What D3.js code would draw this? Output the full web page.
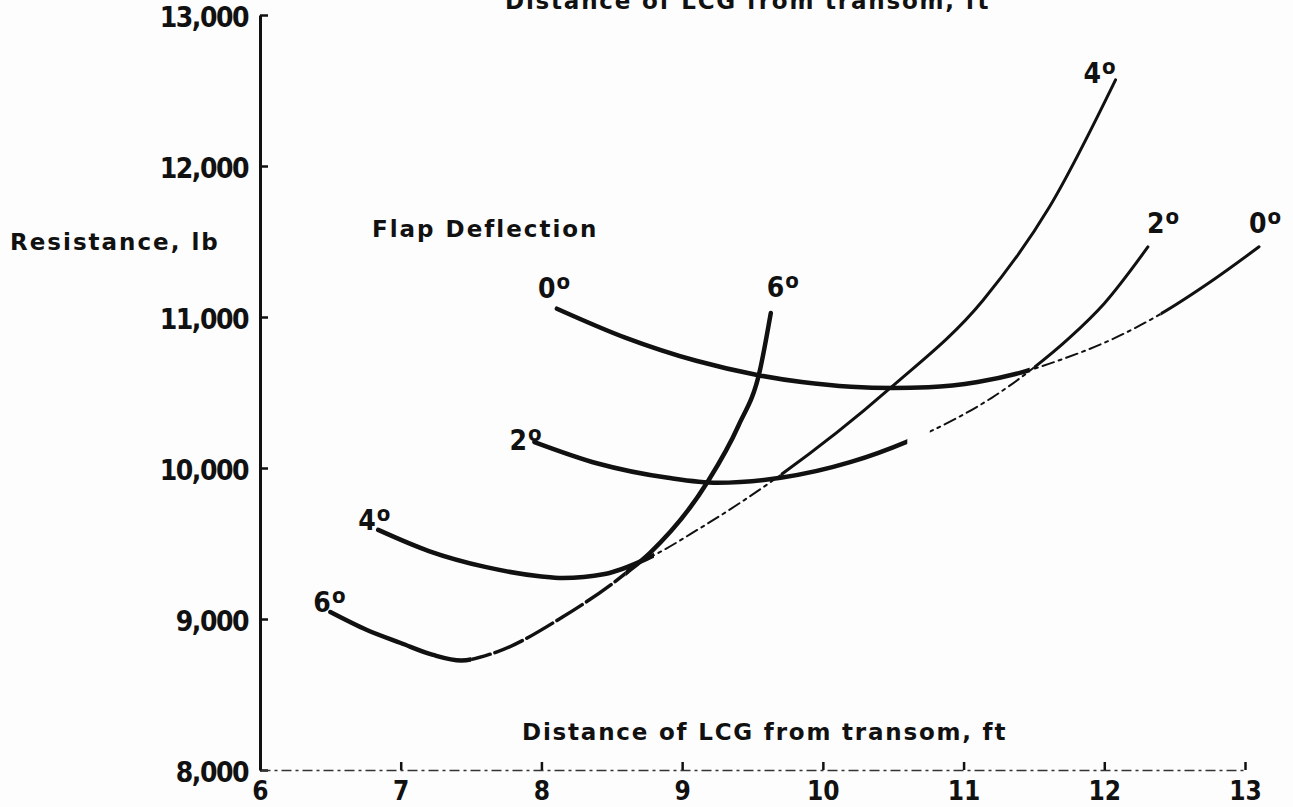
<!DOCTYPE html>
<html>
<head>
<meta charset="utf-8">
<script src="https://cdn.jsdelivr.net/npm/d3@7"></script>
<style>
  body { margin: 0; background: #fdfdfd; }
  svg { display: block; }
  text { font-family: "DejaVu Sans", sans-serif; font-weight: bold; fill: #111; }
</style>
</head>
<body>
<div class="container"></div>
<script>

// flap deflection, deg
var flaps = [0, 2, 4, 6];

// distance of LCG from transom (ft) and resistance (lb)
var lcg0 = [8.11, 8.6, 9.1, 9.55, 9.85, 10.2, 10.5, 10.75, 11.1, 11.4, 11.7, 12.05, 12.4, 12.75, 13.1];
var res0 = [11055, 10862, 10710, 10613, 10569, 10538, 10530, 10535, 10570, 10630, 10720, 10850, 11020, 11230, 11465];

var lcg2 = [7.95, 8.4, 8.9, 9.25, 9.7, 10.2, 10.6, 10.9, 11.2, 11.5, 11.75, 12.0, 12.31];
var res2 = [10172, 10030, 9935, 9902, 9935, 10040, 10175, 10305, 10465, 10665, 10860, 11090, 11464];

var lcg4 = [6.84, 7.2, 7.6, 8.0, 8.15, 8.45, 8.75, 9.13, 9.41, 9.7, 10.48, 11.14, 11.61, 12.08];
var res4 = [9590, 9450, 9345, 9282, 9272, 9298, 9400, 9603, 9768, 9954, 10530, 11113, 11728, 12570];

var lcg6 = [6.5, 6.76, 7.0, 7.23, 7.43, 7.68, 8.15, 8.61, 8.77, 9.18, 9.4, 9.55, 9.63];
var res6 = [9046, 8927, 8841, 8762, 8725, 8781, 9013, 9311, 9437, 9907, 10280, 10636, 11026];

var xTicks = [6, 7, 8, 9, 10, 11, 12, 13];
var yTicks = [8000, 9000, 10000, 11000, 12000, 13000];

var curves = {
  0: d3.zip(lcg0, res0),
  2: d3.zip(lcg2, res2),
  4: d3.zip(lcg4, res4),
  6: d3.zip(lcg6, res6)
};

// how each stretch of a curve is inked (x ranges in ft)
var stretches = {
  0: [[7.9, 11.47, "thick"], [11.47, 12.4, "dashdot"], [12.4, 13.3, "medium"]],
  2: [[7.9, 10.6, "thick"], [10.76, 11.5, "dashdot"], [11.5, 12.4, "medium"]],
  4: [[6.7, 8.8, "thick"], [8.8, 9.7, "dashdot"], [9.7, 12.2, "medium"]],
  6: [[6.4, 7.5, "thick"], [7.5, 8.6, "longdash"], [8.6, 9.7, "thick"]]
};
var inks = {
  thick:    { w: 4.5, dash: null },
  medium:   { w: 3,   dash: null },
  longdash: { w: 3.5, dash: "30,5" },
  dashdot:  { w: 2,   dash: "12,5,3,5" }
};

// label offsets (px) from first and last point of each curve
var startLabel = { 0: [-19, -11], 2: [-25, 8], 4: [-20, 0], 6: [-17, 0] };
var endLabel = { 0: [-10, -14], 2: [-1, -14], 4: [-32, 3], 6: [-4, -16] };

var width = 1293, height = 807;

var svg = d3.select(".container").append("svg")
  .attr("width", width)
  .attr("height", height);

var x = d3.scaleLinear().domain([6, 13]).range([260, 1245]);
var y = d3.scaleLinear().domain([8000, 13000]).range([770, 15]);

// y axis
var yAxis = d3.axisLeft(y)
  .tickValues(yTicks)
  .tickFormat(d3.format(","))
  .tickSizeInner(-8)
  .tickSizeOuter(0)
  .tickPadding(12);

var gy = svg.append("g")
  .attr("transform", "translate(" + x(6) + ",0)")
  .call(yAxis);
gy.select(".domain").attr("stroke", "#111").attr("stroke-width", 3);
gy.selectAll(".tick line").attr("stroke", "#111").attr("stroke-width", 2.5);
gy.selectAll(".tick text")
  .attr("font-size", 28)
  .attr("letter-spacing", -1.5)
  .attr("fill", "#111")
  .attr("transform", "translate(0,3)")
  .style("font-family", '"DejaVu Sans Condensed", "DejaVu Sans", sans-serif');

// x axis
var xAxis = d3.axisBottom(x)
  .tickValues(xTicks)
  .tickFormat(d3.format("d"))
  .tickSizeInner(-8)
  .tickSizeOuter(0)
  .tickPadding(11.5);

var gx = svg.append("g")
  .attr("transform", "translate(0," + y(8000) + ")")
  .call(xAxis);
gx.select(".domain")
  .attr("stroke", "#333")
  .attr("stroke-width", 1.5)
  .attr("stroke-dasharray", "10,4,3,4");
gx.selectAll(".tick line").attr("stroke", "#111").attr("stroke-width", 2.5);
gx.selectAll(".tick text")
  .attr("font-size", 26)
  .attr("fill", "#111")
  .style("font-family", '"DejaVu Sans Condensed", "DejaVu Sans", sans-serif');

// curves
var line = d3.line()
  .x(function (d) { return x(d[0]); })
  .y(function (d) { return y(d[1]); })
  .curve(d3.curveMonotoneX);

var defs = svg.append("defs");
var gc = svg.append("g").attr("class", "curves");

flaps.forEach(function (f) {
  stretches[f].forEach(function (s, i) {
    var id = "clip" + f + "_" + i;
    defs.append("clipPath").attr("id", id)
      .append("rect")
      .attr("x", x(s[0]))
      .attr("width", x(s[1]) - x(s[0]))
      .attr("y", 0)
      .attr("height", height);
    var ink = inks[s[2]];
    gc.append("path")
      .datum(curves[f])
      .attr("clip-path", "url(#" + id + ")")
      .attr("d", line)
      .attr("fill", "none")
      .attr("stroke", "#111")
      .attr("stroke-width", ink.w)
      .attr("stroke-linecap", "round")
      .attr("stroke-dasharray", ink.dash);
  });
});

// degree labels at both ends of each curve
function degLabel(f, pt, off) {
  var t = svg.append("text")
    .attr("x", x(pt[0]) + off[0])
    .attr("y", y(pt[1]) + off[1])
    .attr("font-size", 28)
    .style("font-family", '"DejaVu Sans Condensed", "DejaVu Sans", sans-serif');
  t.append("tspan").text(f);
  t.append("tspan").attr("font-size", 22).attr("dy", -9).attr("dx", 1).text("o");
}

flaps.forEach(function (f) {
  var c = curves[f];
  degLabel(f, c[0], startLabel[f]);
  degLabel(f, c[c.length - 1], endLabel[f]);
});

// titles
svg.append("text")
  .attr("x", 10).attr("y", 250)
  .attr("font-size", 23)
  .attr("letter-spacing", 2)
  .text("Resistance, lb");

svg.append("text")
  .attr("x", 372).attr("y", 237)
  .attr("font-size", 23)
  .attr("letter-spacing", 2)
  .text("Flap Deflection");

svg.append("text")
  .attr("x", 522).attr("y", 740)
  .attr("font-size", 23)
  .attr("letter-spacing", 1.8)
  .text("Distance of LCG from transom, ft");

// same caption, cut off by the top edge of the scan
svg.append("text")
  .attr("x", 505).attr("y", 9)
  .attr("font-size", 23)
  .attr("letter-spacing", 1.8)
  .text("Distance of LCG from transom, ft");

</script>
</body>
</html>
